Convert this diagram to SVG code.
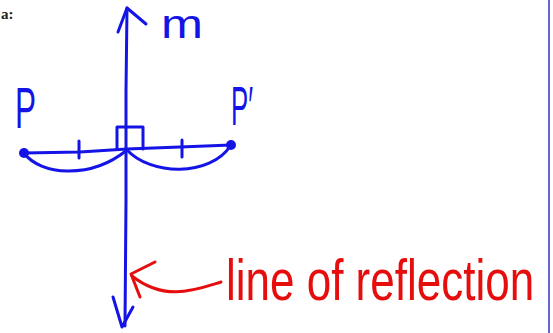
<svg xmlns="http://www.w3.org/2000/svg" width="553" height="333" viewBox="0 0 553 333">
<style>
.b{fill:none;stroke:#1414e6;stroke-width:3;stroke-linecap:round;stroke-linejoin:round}
.r{fill:none;stroke:#e60d0d;stroke-width:3;stroke-linecap:round;stroke-linejoin:round}
.bt{fill:#1414e6;font-family:"Liberation Sans",Arial,sans-serif}
.rt{fill:#e60d0d;font-family:"Liberation Sans",Arial,sans-serif}
</style>
<rect width="553" height="333" fill="#ffffff"/>
<text x="1" y="19" font-family="Liberation Serif,serif" font-size="15" font-weight="bold" fill="#222">a:</text>
<line x1="549" y1="0" x2="549" y2="333" stroke="#6464d2" stroke-width="2"/>
<g id="connectors">
<path class="b" d="M127 8 L126 90 L126 200 L125 326"/>
<path class="b" d="M118 32 L127 8 L146 24"/>
<path class="b" d="M113 297 L122 327 L133 307"/>
<path class="b" d="M24 153 L80 152 L127 149 L180 147 L231 145"/>
<path class="b" d="M79 141 L79 158 M182 140 L182 157"/>
<path class="b" d="M117 149 L117 127 L143 127 L143 149"/>
<path class="b" d="M24 153 C40 175 90 180 127 150"/>
<path class="b" d="M127 150 C150 175 210 178 231 145"/>
<path class="r" d="M221 282 C195 290 165 302 132 276"/>
<path class="r" d="M155 262 L131 274 L140 297"/>
</g>
<g id="axis-m">
<text class="bt" x="161" y="38" font-size="40" textLength="42" lengthAdjust="spacingAndGlyphs">m</text>
</g>
<g id="point-P">
<circle cx="24" cy="153" r="5" fill="#1414e6"/>
<text class="bt" x="15" y="128" font-size="58" textLength="21" lengthAdjust="spacingAndGlyphs">P</text>
</g>
<g id="point-P-prime">
<circle cx="231" cy="145" r="5" fill="#1414e6"/>
<text class="bt" x="231" y="125" font-size="56" textLength="22" lengthAdjust="spacingAndGlyphs">P′</text>
</g>
<g id="label-line-of-reflection">
<text class="rt" transform="translate(226,300) scale(1,1.3)" x="0" y="0" font-size="44">line of reflection</text>
</g>
</svg>
